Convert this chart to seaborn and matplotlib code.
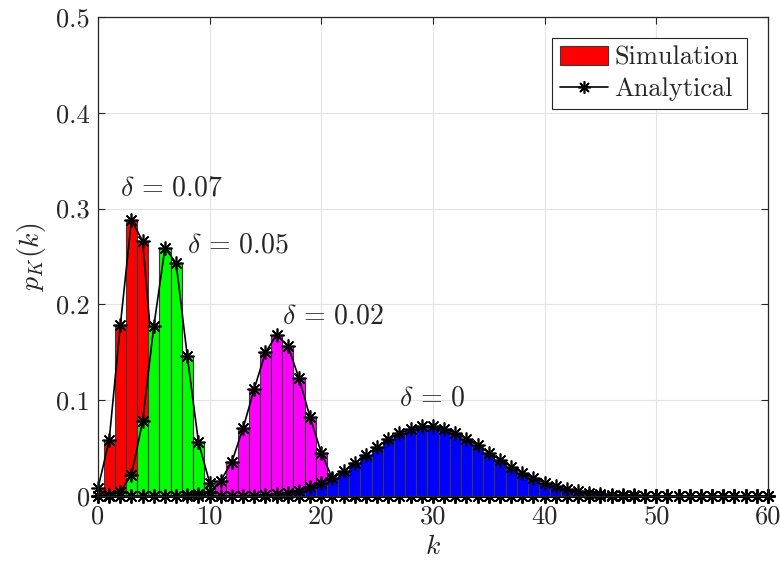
import numpy as np
import pandas as pd
import matplotlib
matplotlib.use("Agg")
import matplotlib.pyplot as plt
import seaborn as sns
from matplotlib.patches import Patch
from matplotlib.lines import Line2D

# ---------------- data ----------------
k_all = list(range(61))

# delta = 0.07 (red), k = 0..8
red_vals = [0.008, 0.058, 0.178, 0.288, 0.266, 0.130, 0.055, 0.015, 0.003]
# delta = 0.05 (green), k = 0..11
green_vals = [0.0, 0.001, 0.0045, 0.022, 0.078, 0.177, 0.259, 0.243, 0.146,
              0.056, 0.014, 0.002]
# delta = 0.02 (magenta), k = 0..24
magenta_vals = [0.0, 0.0, 0.0, 0.0, 0.0, 0.0, 0.0, 0.0, 0.001, 0.002, 0.004,
                0.016, 0.036, 0.071, 0.112, 0.150, 0.168, 0.157, 0.123, 0.082,
                0.045, 0.018, 0.006, 0.001, 0.0]
# delta = 0 (blue), k = 0..55
blue_vals = [0.0, 0.0, 0.0, 0.0, 0.0, 0.0, 0.0, 0.0, 0.0, 0.0, 0.0, 0.0,
             0.0001, 0.0003, 0.0005, 0.0010, 0.0019, 0.0034, 0.0057, 0.0089,
             0.0134, 0.0192, 0.0261, 0.0341, 0.0426, 0.0511, 0.0590, 0.0655,
             0.0702, 0.0726, 0.0726, 0.0703, 0.0659, 0.0599, 0.0529, 0.0453,
             0.0378, 0.0306, 0.0242, 0.0186, 0.0139, 0.0102, 0.0073, 0.0051,
             0.0035, 0.0023, 0.0015, 0.0010, 0.0006, 0.0004, 0.0002, 0.0001,
             0.0001, 0.0, 0.0, 0.0]

series_colors = ["#ff0000", "#00ff00", "#ff00ff", "#0000ff"]
series_vals = [red_vals, green_vals, magenta_vals, blue_vals]
labels_txt = [r"$\delta\,=\,0.07$", r"$\delta\,=\,0.05$", r"$\delta\,=\,0.02$", r"$\delta\,=\,0$"]
label_pos = [(6.6, 0.321), (12.5, 0.262), (21.0, 0.188), (29.9, 0.102)]

xticks = [0, 10, 20, 30, 40, 50, 60]
yticks = [0, 0.1, 0.2, 0.3, 0.4, 0.5]
ytick_labels = ["0", "0.1", "0.2", "0.3", "0.4", "0.5"]

# ---------------- style ----------------
sns.set_theme(style="whitegrid")
plt.rcParams["font.family"] = ["cmr10", "DejaVu Serif"]
plt.rcParams["mathtext.fontset"] = "cm"
plt.rcParams["axes.formatter.use_mathtext"] = True

fig = plt.figure(figsize=(7.8, 5.74), dpi=100)
ax = fig.add_axes([0.1256, 0.1359, 0.8590, 0.8345])
ax.set_facecolor("white")

def full(vals):
    return list(vals) + [0.0] * (len(k_all) - len(vals))

for i, (vals, col) in enumerate(zip(series_vals, series_colors)):
    kk = [k for k, v in zip(k_all, vals) if v > 0]
    vv = [v for v in vals if v > 0]
    df = pd.DataFrame({"k": kk, "p": vv})
    sns.barplot(data=df, x="k", y="p", native_scale=True, width=1.0,
                color=col, saturation=1, edgecolor="#3a3a3a", linewidth=0.8,
                errorbar=None, ax=ax, zorder=2 + 2 * i)
    dl = pd.DataFrame({"k": k_all, "p": full(vals)})
    sns.lineplot(data=dl, x="k", y="p", color="black", linewidth=1.2,
                 marker=(8, 2, 0), markersize=10, markeredgecolor="black",
                 markeredgewidth=1.2, ax=ax, zorder=3 + 2 * i, clip_on=False)

for txt, (x, y) in zip(labels_txt, label_pos):
    ax.text(x, y, txt, ha="center", va="center", fontsize=20, zorder=20)

ax.set_xlim(0, 60)
ax.set_ylim(0, 0.5)
ax.set_xticks(xticks)
ax.set_xticklabels([str(t) for t in xticks])
ax.set_yticks(yticks)
ax.set_yticklabels(ytick_labels)
ax.tick_params(axis="both", labelsize=19, direction="in", length=5,
               width=0.8, colors="#262626", pad=6, bottom=True, left=True,
               top=True, right=True, labelcolor="#262626")
ax.set_xlabel(r"$k$", fontsize=20, labelpad=4, color="#262626")
ax.set_ylabel(r"$p_K(k)$", fontsize=20, labelpad=6, color="#262626")

ax.grid(True, color="#e3e3e3", linewidth=0.8)
ax.set_axisbelow(True)
for s in ax.spines.values():
    s.set_visible(True)
    s.set_color("#262626")
    s.set_linewidth(0.9)
    s.set_zorder(30)

handles = [Patch(facecolor="#ff0000", edgecolor="#3a3a3a", linewidth=0.8),
           Line2D([0], [0], color="black", linewidth=1.2, marker=(8, 2, 0),
                  markersize=9, markeredgewidth=1.2)]
leg = ax.legend(handles, [r"Simulation", r"Analytical"], loc="upper right",
                fontsize=19, frameon=True, fancybox=False, framealpha=1,
                edgecolor="#262626", borderaxespad=0.8, handlelength=1.8,
                handletextpad=0.25, borderpad=0.3, labelspacing=0.3)
leg.get_frame().set_linewidth(0.8)
leg.set_zorder(40)

fig.savefig("out.png", dpi=100)
